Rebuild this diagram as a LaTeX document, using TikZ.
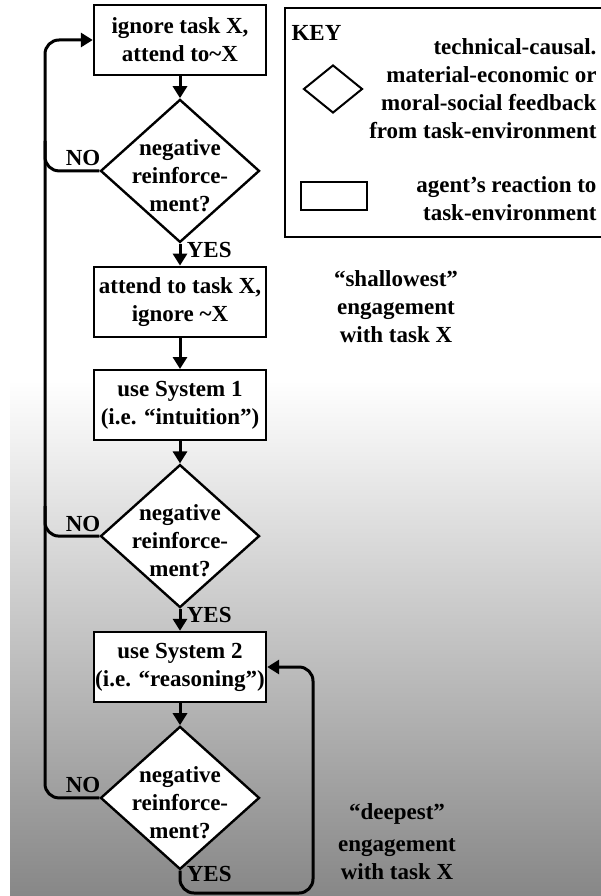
\documentclass[tikz,border=0pt]{standalone}
\usepackage{fontspec}
\setmainfont{Liberation Serif}
\usetikzlibrary{positioning,arrows.meta,shapes.geometric}

\begin{document}
\begin{tikzpicture}[x=1pt,y=-1pt,
font=\fontsize{23}{28}\selectfont\bfseries,
node distance=22pt,
reaction/.style={draw,line width=2.4pt,fill=white,minimum width=172pt,minimum height=70pt,inner sep=0pt,align=center},
feedback/.style={diamond,draw,line width=2.4pt,fill=white,minimum width=159pt,minimum height=143pt,inner sep=0pt},
flow/.style={line width=3pt,-{Triangle[length=12pt,width=14pt]}},
rail/.style={line width=3pt,rounded corners=14pt}]

\useasboundingbox (0,0) rectangle (601,896);
\fill[white] (0,0) rectangle (601,896);
\shade[top color=white,bottom color=black!47] (10,380) rectangle (601,896);

\node[reaction] (b1) at (180,40) {ignore task X,\\attend to\textasciitilde X};
\node[feedback,below=of b1,label={[align=center,yshift=-5pt]center:negative\\reinforce-\\ment?}] (d1) {};
\node[reaction,below=of d1] (b2) {attend to task X,\\ignore \textasciitilde X};
\node[reaction,below=31pt of b2] (b3) {use System 1\\(i.e. “intuition”)};
\node[feedback,below=of b3,label={[align=center,yshift=-5pt]center:negative\\reinforce-\\ment?}] (d2) {};
\node[reaction,below=of d2] (b4) {use System 2\\(i.e. “reasoning”)};
\node[feedback,below=of b4,label={[align=center,yshift=-5pt]center:negative\\reinforce-\\ment?}] (d3) {};

\coordinate (rail) at (45,0);
\coordinate (loop) at (313,893);

\draw[flow] (b1) -- (d1);
\draw[flow] (d1) -- node[right,pos=0.3,xshift=2pt]{YES} (b2);
\draw[flow] (b2) -- (b3);
\draw[flow] (b3) -- (d2);
\draw[flow] (d2) -- node[right,pos=0.3,xshift=2pt]{YES} (b4);
\draw[flow] (b4) -- (d3);

\draw[rail,flow] (d3.west) -- node[above,pos=0.3]{NO} (rail |- d3.west) -- (rail |- b1.west) -- (b1.west);
\draw[rail] (d2.west) -- node[above,pos=0.3]{NO} (rail |- d2.west) -- ([yshift=30pt]rail |- d2.west);
\draw[rail] (d1.west) -- node[above,pos=0.3]{NO} (rail |- d1.west) -- ([yshift=30pt]rail |- d1.west);
\draw[rail,flow] (d3.south) -- node[right,pos=0.15,xshift=2pt]{YES} (d3.south |- loop) -- (loop) |- (b4.east);

\draw[line width=2.4pt] (285,8) rectangle (606,237);
\node[anchor=west] (keytitle) at (288,33) {KEY};
\node[diamond,draw,line width=2pt,minimum width=59pt,minimum height=48pt,inner sep=0pt] (keyd) at (333,89) {};
\node[anchor=east,align=right] (keyt1) at (600,89) {technical-causal.\\material-economic or\\moral-social feedback\\from task-environment};
\node[draw,line width=2.4pt,minimum width=66pt,minimum height=28pt,inner sep=0pt] (keyr) at (334,196) {};
\node[anchor=east,align=right] (keyt2) at (600,199) {agent’s reaction to\\task-environment};

\node[align=center] (shallow) at (396,307) {“shallowest”\\engagement\\with task X};
\node[align=center] (deep) at (397,842) {“deepest”\\[4pt]engagement\\with task X};
\end{tikzpicture}
\end{document}
